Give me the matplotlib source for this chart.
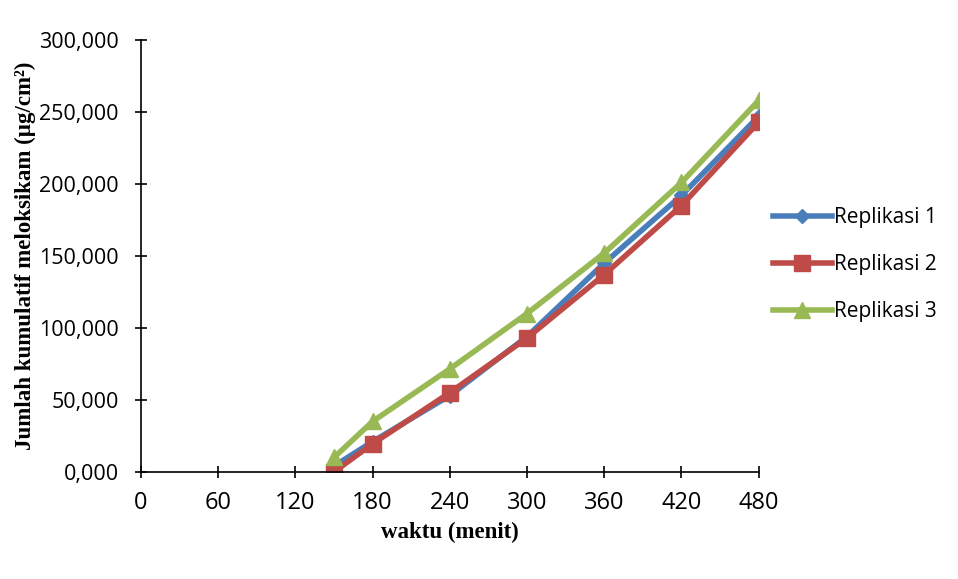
import matplotlib.pyplot as plt
from matplotlib.ticker import FuncFormatter

waktu = [150, 180, 240, 300, 360, 420, 480]
replikasi_1 = [4000, 21000, 53000, 94000, 145000, 192000, 247000]
replikasi_2 = [0, 19500, 55000, 93000, 137000, 185000, 243000]
replikasi_3 = [10000, 35000, 71500, 110000, 152000, 201000, 258000]

x_ticks = [0, 60, 120, 180, 240, 300, 360, 420, 480]
y_ticks = [0, 50000, 100000, 150000, 200000, 250000, 300000]

fig = plt.figure(figsize=(9.58, 5.79), dpi=100)
ax = fig.add_axes([0.147, 0.185, 0.645, 0.746])

ax.plot(waktu, replikasi_1, color="#4a7ebb", marker="D", markersize=7, lw=4, label="Replikasi 1")
ax.plot(waktu, replikasi_2, color="#be4b48", marker="s", markersize=11, lw=4, label="Replikasi 2")
ax.plot(waktu, replikasi_3, color="#98b954", marker="^", markersize=11, lw=4, label="Replikasi 3")

ax.set_xlim(0, 480)
ax.set_ylim(0, 300000)
ax.set_xticks(x_ticks)
ax.set_yticks(y_ticks)
ax.yaxis.set_major_formatter(FuncFormatter(lambda v, p: f"{v/1000:.0f},000" if v else "0,000"))

for s in ["top", "right"]:
    ax.spines[s].set_visible(False)
ax.spines["left"].set_linewidth(1.2)
ax.spines["bottom"].set_linewidth(1.2)
ax.tick_params(direction="inout", length=8, width=1.2, labelsize=15.5)
ax.tick_params(axis="x", pad=10, labelsize=17)
ax.tick_params(axis="y", pad=12)
for lbl in ax.get_xticklabels() + ax.get_yticklabels():
    lbl.set_fontfamily("Open Sans")

ax.set_xlabel("waktu (menit)", fontfamily="Liberation Serif", fontweight="bold", fontsize=16.5, labelpad=5)
ax.set_ylabel("Jumlah kumulatif meloksikam (µg/cm²)", fontfamily="Liberation Serif",
              fontweight="bold", fontsize=16.5, labelpad=2)

leg = ax.legend(loc="center left", bbox_to_anchor=(1.0, 0.48), frameon=False,
                prop={"family": "Open Sans", "size": 15}, handlelength=2.8,
                handletextpad=0.1, labelspacing=1.25, borderaxespad=0.3)

fig.savefig("out.png")
